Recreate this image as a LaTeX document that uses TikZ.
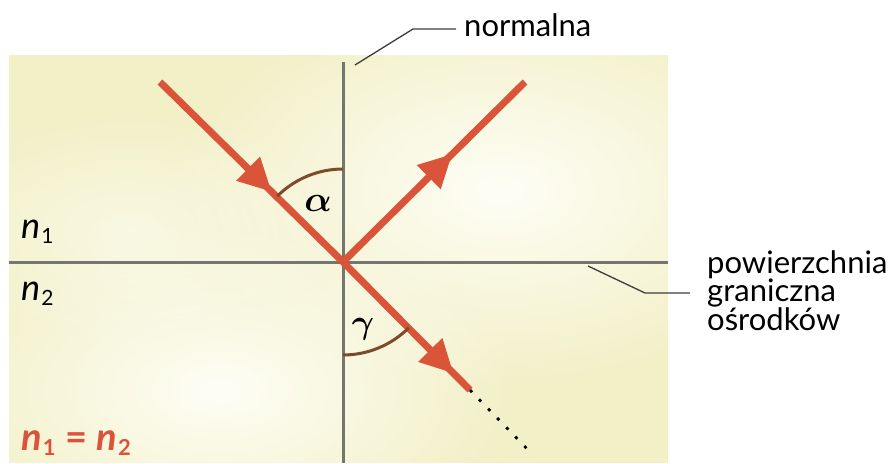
\documentclass[tikz,border=0pt]{standalone}
\usepackage{fontspec}
\usepackage{bm}
\setmainfont{Lato}
\usetikzlibrary{arrows.meta,decorations.markings,calc,fadings}
\definecolor{raycol}{RGB}{217,84,56}
\definecolor{bgyel}{RGB}{242,240,198}
\definecolor{bglight}{RGB}{254,254,246}
\definecolor{axiscol}{RGB}{118,118,112}
\definecolor{arccol}{RGB}{125,74,42}
\definecolor{leadcol}{RGB}{60,60,60}
\tikzfading[name=softblob, inner color=transparent!0, outer color=transparent!100]
\newcommand{\nsub}[3]{{\itshape #1}\kern1pt\raisebox{-5pt}{\fontsize{#3}{#3}\selectfont #2}}
\begin{document}
\begin{tikzpicture}[x=1pt,y=-1pt,
  raystyle/.style={draw=raycol,line width=7pt},
  midarrow/.style={postaction={decorate},decoration={markings,
     mark=at position #1 with {\arrow{Triangle[length=33pt,width=32pt]}}}},
  axisline/.style={draw=axiscol,line width=3pt},
  anglearc/.style={draw=arccol,line width=3pt},
  leader/.style={draw=leadcol,line width=1.3pt},
  lbl/.style={inner sep=0pt,font=\fontsize{31}{28.5}\selectfont},
  nlbl/.style={inner sep=0pt,font=\fontsize{36}{36}\selectfont},
  greek/.style={inner sep=0pt}]
\useasboundingbox (0,0) rectangle (891,463);
% background
\begin{scope}
  \clip (9,55) rectangle (668,463);
  \fill[bgyel] (9,55) rectangle (668,463);
  \fill[bglight,path fading=softblob] (500,190) ellipse [x radius=330, y radius=200];
  \fill[bglight,path fading=softblob] (220,390) ellipse [x radius=300, y radius=170];
  \fill[bglight,path fading=softblob,opacity=0.6] (130,230) ellipse [x radius=220, y radius=120];
\end{scope}
% axes
\coordinate (O) at (343,262);
\coordinate (ntop) at (343,62);
\coordinate (nbot) at (343,463);
\coordinate (sl) at (9,262);
\coordinate (sr) at (668,262);
\draw[axisline] (ntop) -- (nbot);
\draw[axisline] (sl) -- (sr);
% rays
\coordinate (inc) at (160,82);
\coordinate (refl) at (525,82);
\coordinate (refr) at (470,390);
\coordinate (dotend) at (533,455);
\draw[raystyle,midarrow=0.61] (inc) -- (O);
\draw[raystyle,midarrow=0.6] (O) -- (refl);
\draw[raystyle,midarrow=0.87] (O) -- (refr);
\draw[line width=2.8pt,dash pattern=on 3pt off 10pt] (refr) -- (dotend);
% angle arcs
\draw[anglearc] ($(O)+(0,-93)$) arc[start angle=270,end angle=225,radius=93];
\draw[anglearc] ($(O)+(0,93)$) arc[start angle=90,end angle=45,radius=93];
\node[greek] (alpha) at (318,203) {\scalebox{3.6}{$\bm{\alpha}$}};
\node[greek] (gamma) at (363,329) {\scalebox{3.4}{$\bm{\gamma}$}};
% medium labels
\node[nlbl,anchor=base west] (n1) at (21,238) {\nsub{n}{1}{21}};
\node[nlbl,anchor=base west] (n2) at (21,300) {\nsub{n}{2}{21}};
\node[nlbl,anchor=base west,text=raycol,font=\fontsize{38}{38}\selectfont\bfseries] (neq) at (21,450) {\nsub{n}{1}{22}\hspace{10pt}=\hspace{9pt}\nsub{n}{2}{22}};
% callouts
\node[lbl,anchor=base west] (normal) at (464,36) {normalna};
\coordinate (nl1) at (355,65);
\coordinate (nl2) at (413,29);
\coordinate (nl3) at (456,29);
\draw[leader] (nl1) -- (nl2) -- (nl3);
\node[lbl,anchor=base west,align=left] (surf) at (707,330) {powierzchnia\\graniczna\\ośrodków};
\coordinate (sl1) at (588,266);
\coordinate (sl2) at (645,293);
\coordinate (sl3) at (690,293);
\draw[leader] (sl1) -- (sl2) -- (sl3);
\end{tikzpicture}
\end{document}
